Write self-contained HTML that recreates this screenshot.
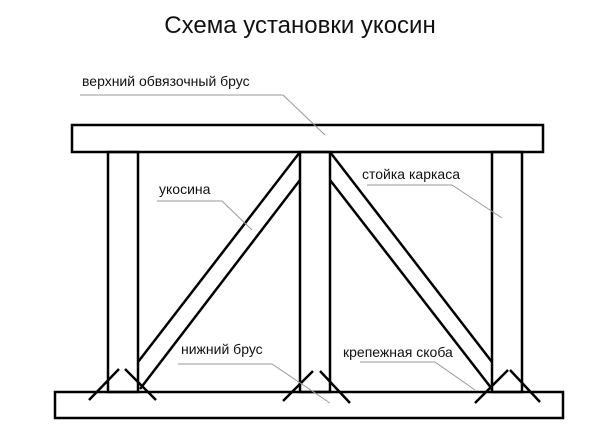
<!DOCTYPE html>
<html><head><meta charset="utf-8"><style>body{margin:0;background:#fff}svg{display:block}text{font-family:"Liberation Sans",sans-serif;fill:#111}</style></head><body>
<svg width="600" height="446" viewBox="0 0 600 446">
<text x="300" y="33" font-size="24" text-anchor="middle">Схема установки укосин</text>
<g fill="none" stroke="#000" stroke-width="2.5">
<rect x="72" y="125" width="471" height="27"/>
<rect x="55" y="392" width="508" height="26"/>
<rect x="108" y="152" width="30" height="240"/>
<rect x="300" y="152" width="30" height="240"/>
<rect x="492" y="152" width="30" height="240"/>
<line x1="300" y1="152" x2="138" y2="362"/>
<line x1="300" y1="180" x2="140" y2="389"/>
<line x1="330" y1="152" x2="492" y2="362"/>
<line x1="330" y1="180" x2="492" y2="389"/>
<line x1="89" y1="400" x2="119" y2="369"/>
<line x1="125" y1="369" x2="156" y2="400"/>
<line x1="283" y1="401" x2="313" y2="371"/>
<line x1="320" y1="371" x2="350" y2="403"/>
<line x1="475" y1="403" x2="508" y2="370"/>
<line x1="510" y1="370" x2="540" y2="402"/>
</g>
<g fill="none" stroke="#999" stroke-width="1">
<polyline points="80,95 283,95 325,135"/>
<polyline points="157,201 222,201 252,230"/>
<polyline points="367,185 452,185 502,218"/>
<polyline points="178,364 272,364 330,403"/>
<polyline points="360,362 435,362 475,390"/>
</g>
<g font-size="14">
<text x="82" y="86">верхний обвязочный брус</text>
<text x="159" y="194">укосина</text>
<text x="362" y="179">стойка каркаса</text>
<text x="181" y="354">нижний брус</text>
<text x="343" y="357">крепежная скоба</text>
</g>
</svg>
</body></html>
